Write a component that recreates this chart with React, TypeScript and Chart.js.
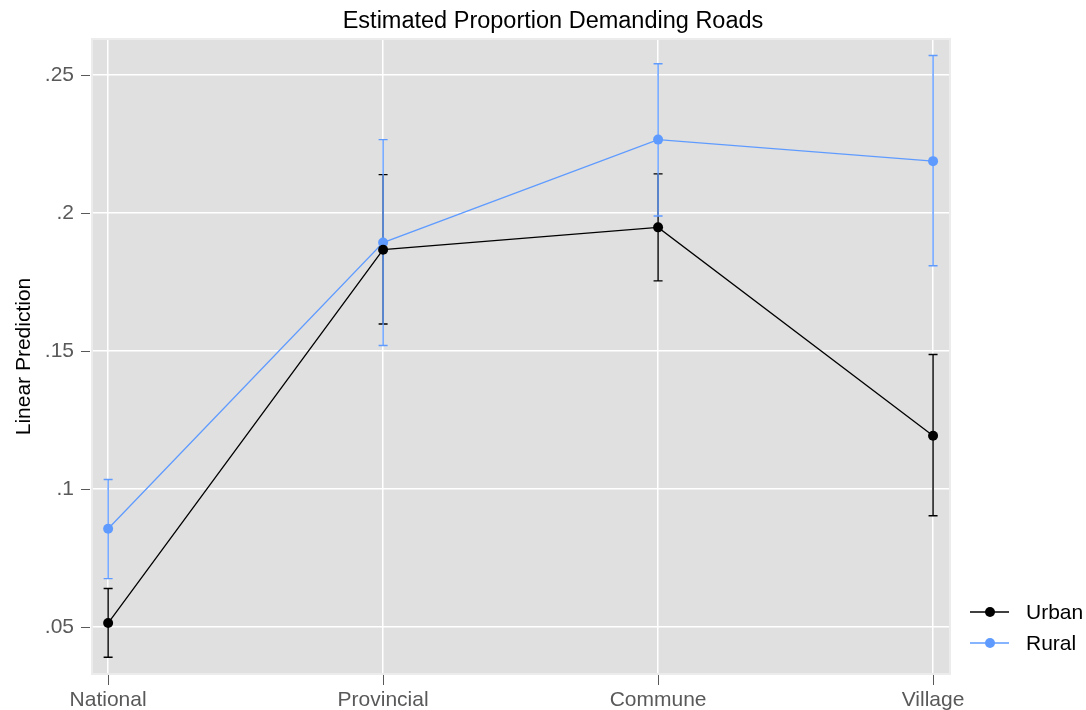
import React, { useEffect, useRef } from 'react';
import { Chart, registerables } from 'chart.js';

Chart.register(...registerables);

const categories = ['National', 'Provincial', 'Commune', 'Village'];
const urbanValues = [0.0514, 0.1867, 0.1948, 0.1193];
const urbanLower = [0.039, 0.1598, 0.1754, 0.0903];
const urbanUpper = [0.0639, 0.2139, 0.2142, 0.1487];
const ruralValues = [0.0856, 0.1893, 0.2266, 0.2188];
const ruralLower = [0.0675, 0.152, 0.1989, 0.1809];
const ruralUpper = [0.1034, 0.2266, 0.2541, 0.2571];
const yTicks = [0.05, 0.1, 0.15, 0.2, 0.25];
const yTickLabels = ['.05', '.1', '.15', '.2', '.25'];
const seriesNames = ['Urban', 'Rural'];
const titleText = 'Estimated Proportion Demanding Roads';

const URBAN = '#000000';
const RURAL = '#5f9bff';
const FONT = "'Liberation Sans', Arial, Helvetica, sans-serif";

const bgPlugin = {
  id: 'bgPlugin',
  beforeDraw(chart: any) {
    const { ctx, chartArea: a } = chart;
    ctx.save();
    ctx.fillStyle = '#e0e0e0';
    ctx.fillRect(a.left, a.top, a.right - a.left, a.bottom - a.top);
    ctx.strokeStyle = '#ececec';
    ctx.lineWidth = 2;
    ctx.strokeRect(a.left - 1, a.top - 1, a.right - a.left + 2, a.bottom - a.top + 2);
    ctx.restore();
  },
};

const errorBarPlugin = {
  id: 'errorBarPlugin',
  beforeDatasetsDraw(chart: any) {
    const { ctx } = chart;
    const xs = chart.scales.x;
    const ys = chart.scales.y;
    const groups = [
      { lo: urbanLower, hi: urbanUpper, color: URBAN },
      { lo: ruralLower, hi: ruralUpper, color: RURAL },
    ];
    ctx.save();
    groups.forEach((g) => {
      ctx.strokeStyle = g.color;
      ctx.lineWidth = 1.4;
      g.lo.forEach((lo, i) => {
        const x = xs.getPixelForValue(i);
        const y1 = ys.getPixelForValue(lo);
        const y2 = ys.getPixelForValue(g.hi[i]);
        ctx.beginPath();
        ctx.moveTo(x, y1);
        ctx.lineTo(x, y2);
        ctx.moveTo(x - 4.5, y1);
        ctx.lineTo(x + 4.5, y1);
        ctx.moveTo(x - 4.5, y2);
        ctx.lineTo(x + 4.5, y2);
        ctx.stroke();
      });
    });
    ctx.restore();
  },
};

const decorPlugin = {
  id: 'decorPlugin',
  afterDraw(chart: any) {
    const { ctx, chartArea: a } = chart;
    const xs = chart.scales.x;
    const ys = chart.scales.y;
    ctx.save();
    ctx.strokeStyle = '#595959';
    ctx.lineWidth = 1;
    ctx.beginPath();
    yTicks.forEach((v) => {
      const y = Math.round(ys.getPixelForValue(v)) + 0.5;
      ctx.moveTo(a.left - 12, y);
      ctx.lineTo(a.left - 3, y);
    });
    categories.forEach((_, i) => {
      const x = Math.round(xs.getPixelForValue(i)) + 0.5;
      ctx.moveTo(x, a.bottom + 2);
      ctx.lineTo(x, a.bottom + 12);
    });
    ctx.stroke();

    // title
    ctx.fillStyle = '#000';
    ctx.font = `23.5px ${FONT}`;
    ctx.textAlign = 'center';
    ctx.textBaseline = 'alphabetic';
    ctx.fillText(titleText, 553, 28);

    // legend
    const colors = [URBAN, RURAL];
    const ysL = [612, 643];
    seriesNames.forEach((name, i) => {
      const y = ysL[i];
      ctx.strokeStyle = colors[i];
      ctx.lineWidth = 1.3;
      ctx.beginPath();
      ctx.moveTo(970, y);
      ctx.lineTo(1009, y);
      ctx.stroke();
      ctx.fillStyle = colors[i];
      ctx.beginPath();
      ctx.arc(990, y, 5, 0, Math.PI * 2);
      ctx.fill();
      ctx.fillStyle = '#000';
      ctx.font = `21px ${FONT}`;
      ctx.textAlign = 'left';
      ctx.textBaseline = 'middle';
      ctx.fillText(name, 1026, y + 1);
    });
    ctx.restore();
  },
};

export default function App() {
  const ref = useRef<HTMLCanvasElement | null>(null);
  useEffect(() => {
    if (!ref.current) return;
    const chart = new Chart(ref.current, {
      type: 'line',
      data: {
        datasets: [
          {
            label: seriesNames[0],
            data: urbanValues.map((v, i) => ({ x: i, y: v })),
            borderColor: URBAN,
            backgroundColor: URBAN,
            borderWidth: 1.3,
            pointRadius: 5,
            pointBorderWidth: 0,
            pointBackgroundColor: URBAN,
          },
          {
            label: seriesNames[1],
            data: ruralValues.map((v, i) => ({ x: i, y: v })),
            borderColor: RURAL,
            backgroundColor: RURAL,
            borderWidth: 1.3,
            pointRadius: 5,
            pointBorderWidth: 0,
            pointBackgroundColor: RURAL,
          },
        ],
      },
      options: {
        responsive: false,
        animation: false,
        devicePixelRatio: 1,
        layout: { padding: { left: 0, right: 137, top: 40, bottom: 0 } },
        plugins: {
          legend: { display: false },
          tooltip: { enabled: false },
          title: { display: false },
        },
        scales: {
          x: {
            type: 'linear',
            min: -0.055,
            max: 3.058,
            afterBuildTicks: (s: any) => {
              s.ticks = categories.map((_, i) => ({ value: i }));
            },
            afterFit: (s: any) => {
              s.height = 37;
            },
            ticks: {
              color: '#595959',
              font: { family: FONT, size: 21 },
              padding: 15,
              maxRotation: 0,
              autoSkip: false,
              callback: (v: any) => categories[Math.round(Number(v))] ?? '',
            },
            grid: { color: '#ffffff', lineWidth: 1.5, drawTicks: false },
            border: { display: false },
          },
          y: {
            type: 'linear',
            min: 0.0333,
            max: 0.2627,
            afterBuildTicks: (s: any) => {
              s.ticks = yTicks.map((v) => ({ value: v }));
            },
            afterFit: (s: any) => {
              s.width = 93;
            },
            ticks: {
              color: '#595959',
              font: { family: FONT, size: 21 },
              padding: 19,
              callback: (v: any) => {
                const idx = yTicks.findIndex((t) => Math.abs(t - Number(v)) < 1e-6);
                return idx >= 0 ? yTickLabels[idx] : '';
              },
            },
            grid: { color: '#ffffff', lineWidth: 1.5, drawTicks: false },
            border: { display: false },
            title: {
              display: true,
              text: 'Linear Prediction',
              color: '#000',
              font: { family: FONT, size: 21 },
              padding: { top: 12, bottom: 0 },
            },
          },
        },
      },
      plugins: [bgPlugin, errorBarPlugin, decorPlugin],
    } as any);
    return () => chart.destroy();
  }, []);

  return (
    <div style={{ position: 'fixed', left: 0, top: 0, width: 1086, height: 710, background: '#fff' }}>
      <canvas ref={ref} width={1086} height={710} />
    </div>
  );
}
